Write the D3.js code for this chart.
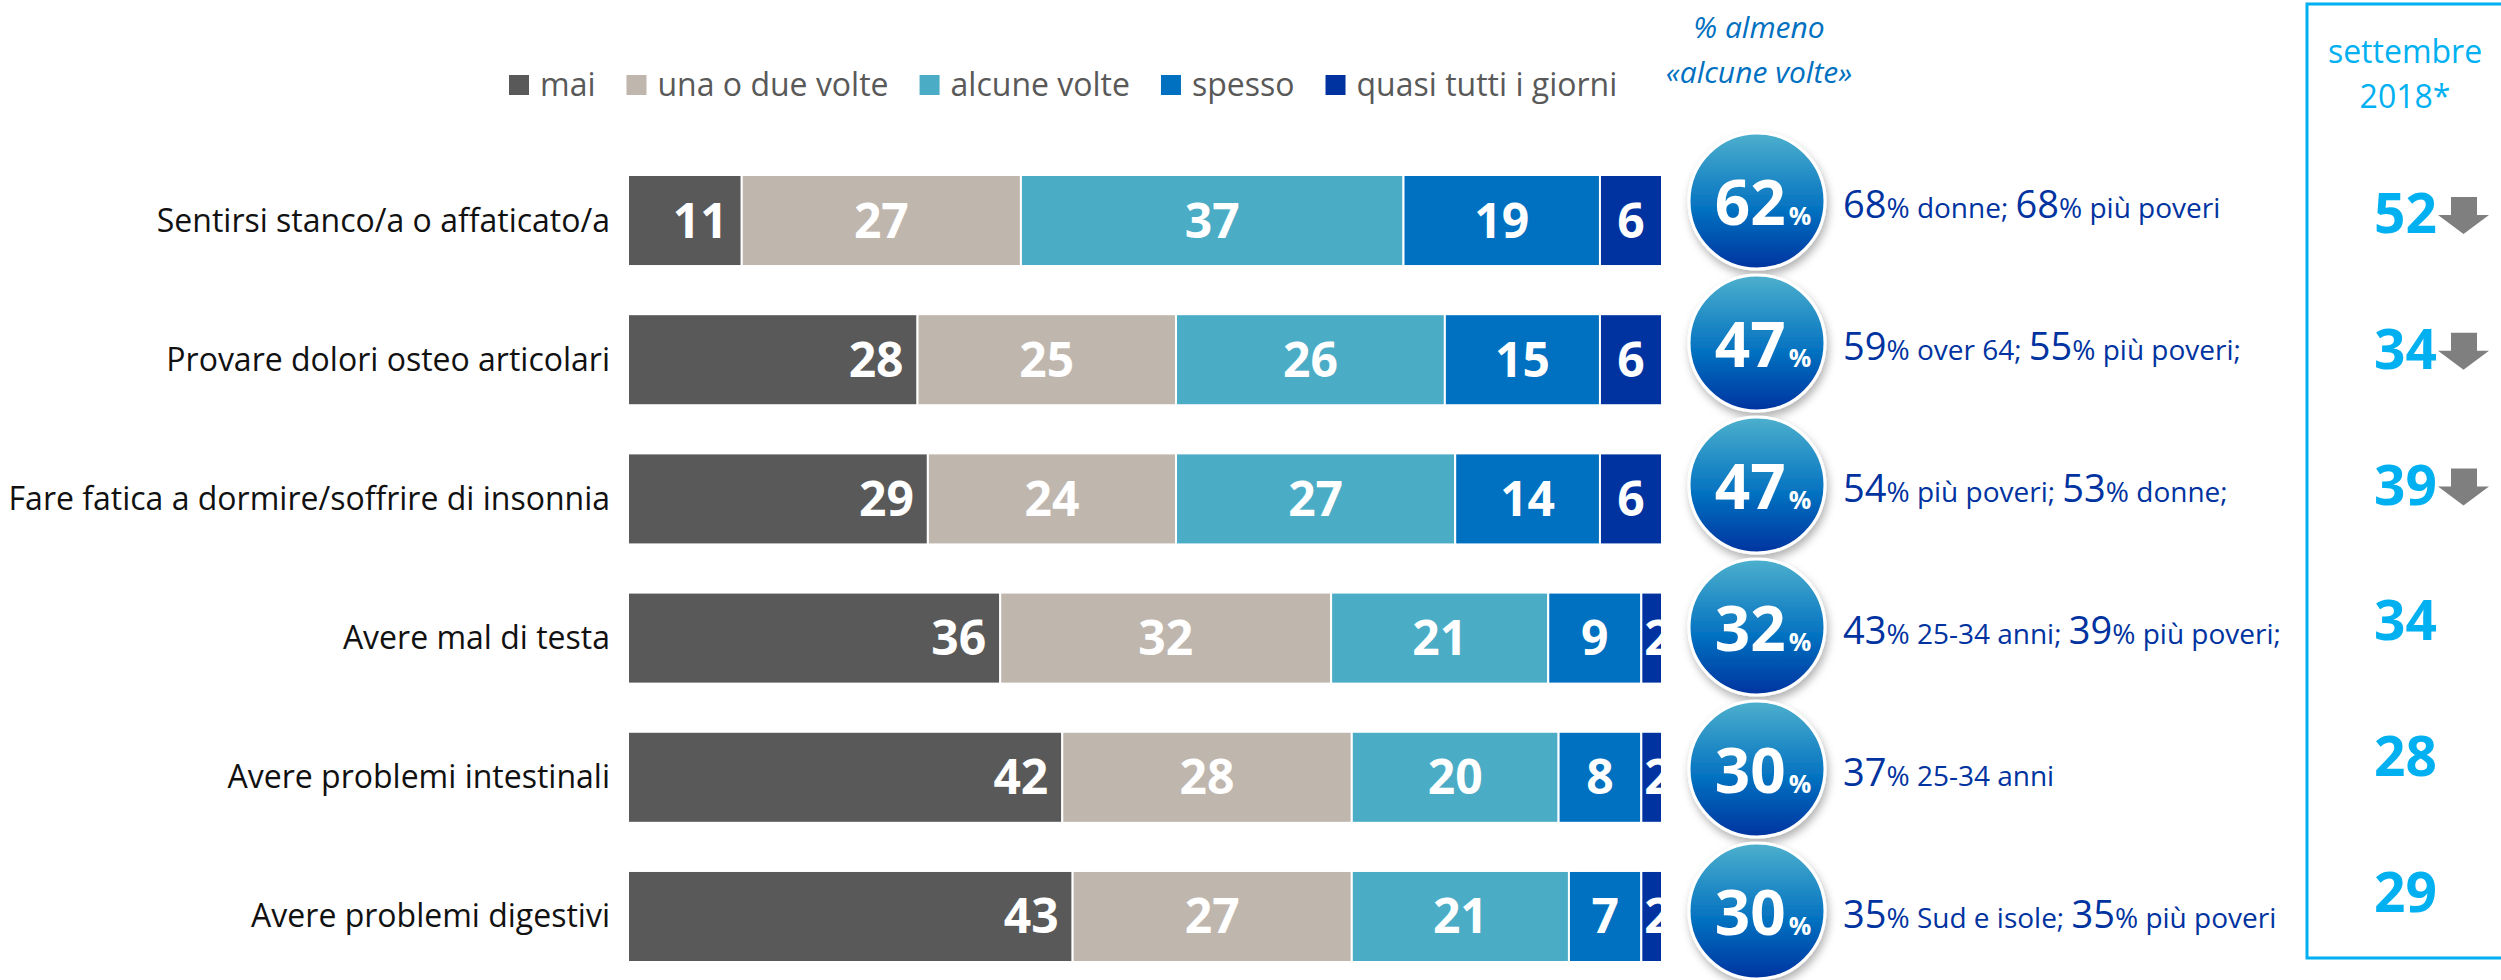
<!DOCTYPE html>
<html>
<head>
<meta charset="utf-8">
<script src="https://cdn.jsdelivr.net/npm/d3@7"></script>
<style>
  html, body { margin: 0; padding: 0; background: #fff; }
  svg { display: block; font-family: 'Open Sans', 'Noto Sans', sans-serif; }
</style>
</head>
<body>
<div id="chart"></div>
<script>
// --- data ---
const categories = [
  "Sentirsi stanco/a o affaticato/a",
  "Provare dolori osteo articolari",
  "Fare fatica a dormire/soffrire di insonnia",
  "Avere mal di testa",
  "Avere problemi intestinali",
  "Avere problemi digestivi"
];
const seriesNames = ["mai", "una o due volte", "alcune volte", "spesso", "quasi tutti i giorni"];
const seriesColors = ["#595959", "#BFB6AE", "#4BACC6", "#0070C0", "#0033A0"];
const mai        = [11, 28, 29, 36, 42, 43];
const unaODue    = [27, 25, 24, 32, 28, 27];
const alcune     = [37, 26, 27, 21, 20, 21];
const spesso     = [19, 15, 14, 9, 8, 7];
const quasiTutti = [6, 6, 6, 2, 2, 2];
const almeno     = [62, 47, 47, 32, 30, 30];
const sett2018   = [52, 34, 39, 34, 28, 29];
const inCalo     = [true, true, true, false, false, false];
// notes: [big value, rest of text] pairs per row
const notes = [
  [["68", "% donne; "], ["68", "% più poveri"]],
  [["59", "% over 64; "], ["55", "% più poveri;"]],
  [["54", "% più poveri; "], ["53", "% donne;"]],
  [["43", "% 25-34 anni; "], ["39", "% più poveri;"]],
  [["37", "% 25-34 anni"]],
  [["35", "% Sud e isole; "], ["35", "% più poveri"]]
];

const width = 2501, height = 980;
const svg = d3.select("#chart").append("svg")
  .attr("width", width).attr("height", height);

const defs = svg.append("defs");
const grad = defs.append("linearGradient")
  .attr("id", "bubble").attr("x1", 0).attr("y1", 0).attr("x2", 0).attr("y2", 1);
grad.append("stop").attr("offset", "0%").attr("stop-color", "#4DB0CD");
grad.append("stop").attr("offset", "55%").attr("stop-color", "#0573C1");
grad.append("stop").attr("offset", "100%").attr("stop-color", "#0033A0");
const shadow = defs.append("filter").attr("id", "shadow")
  .attr("x", "-20%").attr("y", "-20%").attr("width", "140%").attr("height", "150%");
shadow.append("feDropShadow").attr("dx", 2).attr("dy", 5)
  .attr("stdDeviation", 4).attr("flood-color", "#000").attr("flood-opacity", 0.3);

// stacked data
const rows = categories.map((c, i) => ({
  cat: c, i: i,
  vals: [mai[i], unaODue[i], alcune[i], spesso[i], quasiTutti[i]]
}));
const stackData = rows.map(r => {
  const o = {cat: r.cat};
  seriesNames.forEach((s, k) => o[s] = r.vals[k]);
  return o;
});
const stack = d3.stack().keys(seriesNames)(stackData);

const x = d3.scaleLinear().domain([0, 100]).range([628, 1662]);
const y = d3.scaleBand().domain(categories).range([175, 962]).paddingInner(0.346);
const yBubble = d3.scalePoint().domain(categories).range([201, 911]);
const yPrev = d3.scalePoint().domain(categories).range([213, 892]);

// category labels
svg.append("g").selectAll("text")
  .data(categories).join("text")
  .attr("x", 610)
  .attr("y", d => y(d) + y.bandwidth() / 2 + 11)
  .attr("text-anchor", "end")
  .style("font-size", "32px")
  .style("fill", "#111")
  .text(d => d);

// bars
const layers = svg.append("g").selectAll("g")
  .data(stack).join("g")
  .attr("fill", (d, k) => seriesColors[k]);

layers.selectAll("rect")
  .data(d => d.map(p => ({p: p, key: d.key})))
  .join("rect")
  .attr("x", d => x(d.p[0]))
  .attr("y", d => y(d.p.data.cat))
  .attr("width", d => x(d.p[1]) - x(d.p[0]))
  .attr("height", y.bandwidth())
  .attr("stroke", "#fff")
  .attr("stroke-width", 2);

// clip paths so labels stay inside their segment
let clipId = 0;
stack.forEach((layer, k) => {
  layer.forEach(p => {
    const id = "clip" + (clipId++);
    p.clip = id;
    defs.append("clipPath").attr("id", id).append("rect")
      .attr("x", x(p[0]) + 1).attr("y", y(p.data.cat))
      .attr("width", x(p[1]) - x(p[0]) - 2).attr("height", y.bandwidth());
  });
});

const labels = svg.append("g");
stack.forEach((layer, k) => {
  layer.forEach(p => {
    const v = p[1] - p[0];
    const segW = x(p[1]) - x(p[0]);
    const t = labels.append("text")
      .attr("clip-path", "url(#" + p.clip + ")")
      .attr("y", y(p.data.cat) + y.bandwidth() / 2 + 17)
      .style("font-size", "48px")
      .style("font-weight", 700)
      .style("fill", "#fff")
      .text(v);
    if (k === 0) {
      t.attr("x", x(p[1]) - 14).attr("text-anchor", "end");
    } else if (segW < 30) {
      t.attr("x", x(p[0]) + 3).attr("text-anchor", "start");
    } else {
      t.attr("x", (x(p[0]) + x(p[1])) / 2).attr("text-anchor", "middle");
    }
  });
});

// legend
const legend = svg.append("g");
let lx = 509;
seriesNames.forEach((s, k) => {
  legend.append("rect").attr("x", lx).attr("y", 75).attr("width", 20).attr("height", 20)
    .attr("fill", seriesColors[k]);
  const t = legend.append("text").attr("x", lx + 31).attr("y", 96)
    .style("font-size", "32px").style("fill", "#595959").text(s);
  lx += 31 + t.node().getComputedTextLength() + 31;
});

// header for bubbles
const head = svg.append("g").style("font-style", "italic").style("fill", "#0070C0")
  .style("font-size", "30px").attr("text-anchor", "middle");
head.append("text").attr("x", 1759).attr("y", 38).text("% almeno");
head.append("text").attr("x", 1759).attr("y", 83).text("«alcune volte»");

// bubbles
const bub = svg.append("g").selectAll("g")
  .data(rows).join("g")
  .attr("transform", d => `translate(1757,${yBubble(d.cat)})`);
bub.append("circle").attr("r", 68)
  .attr("fill", "url(#bubble)")
  .attr("stroke", "#fff").attr("stroke-width", 3)
  .attr("filter", "url(#shadow)");
const bt = bub.append("text").attr("y", 24).attr("x", 6).attr("text-anchor", "middle")
  .style("fill", "#fff").style("font-weight", 700);
bt.append("tspan").style("font-size", "62px").text(d => almeno[d.i]);
bt.append("tspan").style("font-size", "25px").attr("dx", 3).text("%");

// notes next to bubbles
const nt = svg.append("g").selectAll("text")
  .data(rows).join("text")
  .attr("x", 1843)
  .attr("y", d => yBubble(d.cat) + 17)
  .style("fill", "#0033A0");
nt.each(function(d) {
  const t = d3.select(this);
  notes[d.i].forEach(n => {
    t.append("tspan").style("font-size", "38px").text(n[0]);
    t.append("tspan").style("font-size", "28px").text(n[1]);
  });
});

// september 2018 box
svg.append("path")
  .attr("d", "M2560,4 H2307 V958 H2560")
  .attr("fill", "none").attr("stroke", "#00B0F0").attr("stroke-width", 3);
const sh = svg.append("g").attr("text-anchor", "middle").style("fill", "#00B0F0")
  .style("font-size", "32px");
sh.append("text").attr("x", 2405).attr("y", 63).text("settembre");
sh.append("text").attr("x", 2405).attr("y", 108).text("2018*");

const prev = svg.append("g").selectAll("g")
  .data(rows).join("g")
  .attr("transform", d => `translate(0,${yPrev(d.cat)})`);
prev.append("text").attr("x", 2437).attr("y", 20).attr("text-anchor", "end")
  .style("fill", "#00B0F0").style("font-weight", 700).style("font-size", "55px")
  .text(d => sett2018[d.i]);
prev.filter(d => inCalo[d.i]).append("path")
  .attr("d", "M2451,-16 H2477 V2 H2489 L2463.5,21 L2438,2 H2451 Z")
  .attr("fill", "#7F7F7F");
</script>
</body>
</html>
